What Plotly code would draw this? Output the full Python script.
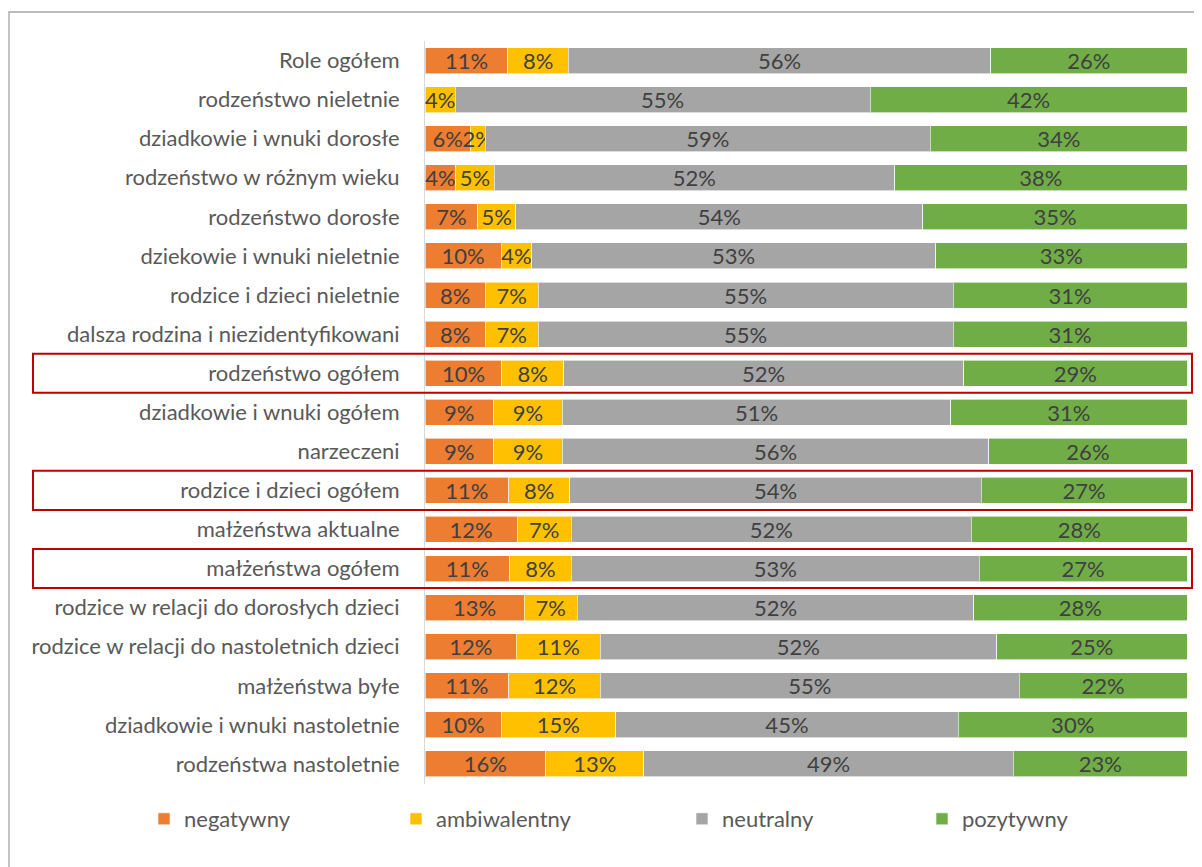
import plotly.graph_objects as go

categories = [
    "Role ogółem",
    "rodzeństwo nieletnie",
    "dziadkowie i wnuki dorosłe",
    "rodzeństwo w różnym wieku",
    "rodzeństwo dorosłe",
    "dziekowie i wnuki nieletnie",
    "rodzice i dzieci nieletnie",
    "dalsza rodzina i niezidentyfikowani",
    "rodzeństwo ogółem",
    "dziadkowie i wnuki ogółem",
    "narzeczeni",
    "rodzice i dzieci ogółem",
    "małżeństwa aktualne",
    "małżeństwa ogółem",
    "rodzice w relacji do dorosłych dzieci",
    "rodzice w relacji do nastoletnich dzieci",
    "małżeństwa byłe",
    "dziadkowie i wnuki nastoletnie",
    "rodzeństwa nastoletnie",
]

negatywny = [11, None, 6, 4, 7, 10, 8, 8, 10, 9, 9, 11, 12, 11, 13, 12, 11, 10, 16]
ambiwalentny = [8, 4, 2, 5, 5, 4, 7, 7, 8, 9, 9, 8, 7, 8, 7, 11, 12, 15, 13]
neutralny = [56, 55, 59, 52, 54, 53, 55, 55, 52, 51, 56, 54, 52, 53, 52, 52, 55, 45, 49]
pozytywny = [26, 42, 34, 38, 35, 33, 31, 31, 29, 31, 26, 27, 28, 27, 28, 25, 22, 30, 23]

series_names = ["negatywny", "ambiwalentny", "neutralny", "pozytywny"]
series_values = [negatywny, ambiwalentny, neutralny, pozytywny]
series_colors = ["#ED7D31", "#FFC000", "#A5A5A5", "#70AD47"]

highlighted = ["rodzeństwo ogółem", "rodzice i dzieci ogółem", "małżeństwa ogółem"]

# page body margin offset (the figure is drawn at 8px,8px in the page)
OFF = 8
W, H = 1202 - OFF, 867 - OFF
FONT = "Lato"
FS = 22

def px(x):
    return (x - OFF) / W

def py(y):
    return 1 - (y - OFF) / H

# legend text x-positions (page px) for each item
legend_text_px = [181, 433, 719, 959]

fig = go.Figure()
legend_ids = ["legend", "legend2", "legend3", "legend4"]
for name, vals, col, lid in zip(series_names, series_values, series_colors, legend_ids):
    fig.add_trace(go.Bar(
        y=categories,
        x=vals,
        name=name,
        orientation="h",
        marker=dict(color=col, line=dict(color="rgba(255,255,255,0.6)", width=1)),
        text=["" if v is None else f"{v}%" for v in vals],
        textposition="inside",
        insidetextanchor="middle",
        textangle=0,
        textfont=dict(family=FONT, size=FS, color="#404040"),
        legend=lid,
    ))

layout_legends = {}
for lid, tx in zip(legend_ids, legend_text_px):
    layout_legends[lid] = dict(
        x=px(tx - 37), y=py(819), xanchor="left", yanchor="middle",
        orientation="h", font=dict(family=FONT, size=FS, color="#595959"),
        bgcolor="rgba(0,0,0,0)",
    )

shapes = []
# outer frame
shapes.append(dict(type="rect", xref="paper", yref="paper",
                   x0=px(9), x1=1.02, y0=py(12), y1=-0.05,
                   line=dict(color="#A6A6A6", width=1.3), layer="below"))
for c in highlighted:
    i = categories.index(c)
    shapes.append(dict(type="rect", xref="paper", yref="y",
                       x0=px(33), x1=px(1192), y0=i - 0.5, y1=i + 0.5,
                       line=dict(color="#C00000", width=2)))

fig.update_layout(
    width=W, height=H,
    barmode="stack", barnorm="percent", bargap=0.335,
    margin=dict(l=0, r=0, t=0, b=0),
    paper_bgcolor="white", plot_bgcolor="white",
    font=dict(family=FONT, size=FS, color="#595959"),
    uniformtext=dict(minsize=FS, mode="show"),
    xaxis=dict(domain=[px(425), px(1187)], range=[0, 100], visible=False, fixedrange=True),
    yaxis=dict(domain=[py(783.5), py(41)], autorange="reversed",
               showline=True, linecolor="#D9D9D9", linewidth=1,
               showgrid=False, ticks="", ticklabelstandoff=20,
               tickfont=dict(family=FONT, size=FS, color="#595959")),
    shapes=shapes,
    showlegend=True,
    **layout_legends,
)

fig.write_html("out.html")
